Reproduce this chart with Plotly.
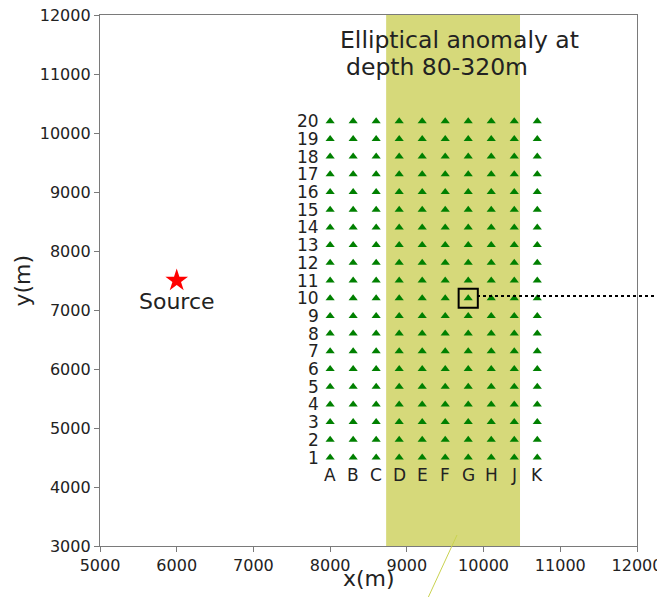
import plotly.graph_objects as go

# ---- data ----
col_labels = ["A", "B", "C", "D", "E", "F", "G", "H", "J", "K"]
col_x = [8000, 8300, 8600, 8900, 9200, 9500, 9800, 10100, 10400, 10700]
row_labels = [str(i) for i in range(1, 21)]
row_y = [4500, 4800, 5100, 5400, 5700, 6000, 6300, 6600, 6900, 7200,
         7500, 7800, 8100, 8400, 8700, 9000, 9300, 9600, 9900, 10200]
source_x = [6000]
source_y = [7500]
anomaly_x = [8730, 10475]
highlight = ("G", "10")  # receiver boxed
x_ticks = [5000, 6000, 7000, 8000, 9000, 10000, 11000, 12000]
y_ticks = [3000, 4000, 5000, 6000, 7000, 8000, 9000, 10000, 11000, 12000]

FONT = "DejaVu Sans"
TXT = "#222222"
AX = "#7a7a7a"

rx = [x for y in row_y for x in col_x]
ry = [y for y in row_y for x in col_x]

fig = go.Figure()

fig.add_trace(go.Scatter(
    x=rx, y=ry, mode="markers",
    marker=dict(symbol="triangle-up", size=8, color="#008000", line=dict(width=0)),
    hoverinfo="skip", showlegend=False))

fig.add_trace(go.Scatter(
    x=source_x, y=source_y, mode="markers",
    marker=dict(symbol="star", size=17, color="#ff0000", line=dict(width=0)),
    showlegend=False))

# plot area in page pixels
L, R, T, B = 100, 637, 15, 546
PW, PH = R - L, B - T

shapes = []
# anomaly band
shapes.append(dict(type="rect", xref="x", yref="paper", x0=anomaly_x[0], x1=anomaly_x[1],
                   y0=0, y1=1, fillcolor="#d6d97a", line=dict(width=0), layer="below"))
# box around highlighted receiver
hx = col_x[col_labels.index(highlight[0])]
hy = row_y[row_labels.index(highlight[1])]
shapes.append(dict(type="rect", xref="x", yref="y", x0=hx - 125, x1=hx + 125,
                   y0=hy - 160, y1=hy + 160, line=dict(color="black", width=2),
                   fillcolor="rgba(0,0,0,0)"))
# dotted leader line to outside
shapes.append(dict(type="line", xref="paper", yref="paper",
                   x0=(477 - L) / PW, x1=(670 - L) / PW,
                   y0=(B - 296) / PH, y1=(B - 296) / PH,
                   line=dict(color="black", width=2, dash="dot")))
# thin yellow leader line
shapes.append(dict(type="line", xref="paper", yref="paper",
                   x0=(457 - L) / PW, y0=(B - 535) / PH,
                   x1=(427 - L) / PW, y1=(B - 600) / PH,
                   line=dict(color="#c9d250", width=1)))

ann = []
for lab, y in zip(row_labels, row_y):
    ann.append(dict(x=7880, y=y, xref="x", yref="y", text=lab, showarrow=False,
                    xanchor="right", yanchor="middle",
                    font=dict(family=FONT, size=17, color=TXT)))
for lab, x in zip(col_labels, col_x):
    ann.append(dict(x=x, y=4200, xref="x", yref="y", text=lab, showarrow=False,
                    xanchor="center", yanchor="middle",
                    font=dict(family=FONT, size=17, color=TXT)))
ann.append(dict(x=source_x[0], y=7150, xref="x", yref="y", text="Source", showarrow=False,
                xanchor="center", yanchor="middle", font=dict(family=FONT, size=22, color=TXT)))
ann.append(dict(x=8100, y=11580, xref="x", yref="y", text="Elliptical anomaly at",
                showarrow=False, xanchor="left", yanchor="middle",
                font=dict(family=FONT, size=23.5, color=TXT)))
ann.append(dict(x=8180, y=11120, xref="x", yref="y", text="depth 80-320m",
                showarrow=False, xanchor="left", yanchor="middle",
                font=dict(family=FONT, size=23.5, color=TXT)))
ann.append(dict(x=0.5, y=(B - 578) / PH, xref="paper", yref="paper", text="x(m)",
                showarrow=False, xanchor="center", yanchor="middle",
                font=dict(family=FONT, size=22, color=TXT)))
ann.append(dict(x=(22 - L) / PW, y=0.5, xref="paper", yref="paper", text="y(m)",
                showarrow=False, xanchor="center", yanchor="middle", textangle=-90,
                font=dict(family=FONT, size=22, color=TXT)))

# page body has an 8px default margin, so the figure is 8px smaller and offset
fig.update_layout(
    width=657, height=589,
    margin=dict(l=L - 8, r=665 - R, t=T - 8, b=597 - B),
    paper_bgcolor="white", plot_bgcolor="white",
    shapes=shapes, annotations=ann,
    font=dict(family=FONT, color=TXT),
    xaxis=dict(range=[5000, 12000], tickvals=x_ticks, ticktext=[str(v) for v in x_ticks],
               ticks="outside", ticklen=5, automargin=False, ticklabeloverflow="allow",
               tickcolor=AX, showline=True, linecolor=AX, linewidth=1.3, mirror=True,
               showgrid=False, zeroline=False, tickfont=dict(family=FONT, size=16, color=TXT)),
    yaxis=dict(range=[3000, 12000], tickvals=y_ticks, ticktext=[str(v) for v in y_ticks],
               ticks="outside", ticklen=5, automargin=False, ticklabeloverflow="allow",
               tickcolor=AX, showline=True, linecolor=AX, linewidth=1.3, mirror=True,
               showgrid=False, zeroline=False, tickfont=dict(family=FONT, size=16, color=TXT)),
)

fig.write_html("out.html")
